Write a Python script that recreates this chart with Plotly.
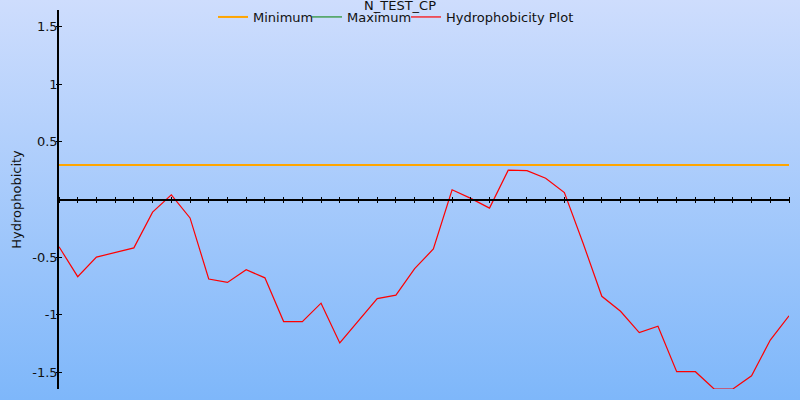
import base64
import plotly.graph_objects as go

# ---- data ----
positions = list(range(40))
hydrophobicity = [-0.41, -0.67, -0.50, -0.46, -0.42, -0.11, 0.04, -0.16, -0.69, -0.72,
                  -0.61, -0.68, -1.06, -1.06, -0.90, -1.245, -1.05, -0.86, -0.83, -0.60,
                  -0.43, 0.084, 0.01, -0.075, 0.255, 0.25, 0.184, 0.06, -0.38, -0.84,
                  -0.97, -1.155, -1.10, -1.495, -1.495, -1.645, -1.645, -1.53, -1.22, -1.01]
minimum_value = 0.30
maximum_x = [None]
maximum_y = [None]
y_tick_values = [1.5, 1, 0.5, -0.5, -1, -1.5]
y_tick_labels = ["1.5", "1", "0.5", "-0.5", "-1", "-1.5"]
title_text = "N_TEST_CP"

FONT = "DejaVu Sans"
W, H = 800, 400
ML, MR, MT, MB = 59, 11, 10, 11
PW, PH = W - ML - MR, H - MT - MB
YR = [-1.645, 1.645]
XR = [positions[0], positions[-1]]

svg = (
    '<svg xmlns="http://www.w3.org/2000/svg" width="800" height="400" preserveAspectRatio="none">'
    '<defs><linearGradient id="g" x1="0" y1="0" x2="0" y2="1">'
    '<stop offset="0" stop-color="#CEDDFD"/><stop offset="1" stop-color="#7EB7FA"/>'
    '</linearGradient></defs><rect width="800" height="400" fill="url(#g)"/></svg>'
)
src = "data:image/svg+xml;base64," + base64.b64encode(svg.encode()).decode()

fig = go.Figure()
fig.add_trace(go.Scatter(x=[positions[0], positions[-1]], y=[minimum_value, minimum_value],
                         mode="lines", name="Minimum", line=dict(color="#FFA500", width=2),
                         legend="legend"))
fig.add_trace(go.Scatter(x=maximum_x, y=maximum_y, mode="lines", name="Maximum",
                         line=dict(color="#008000", width=1), legend="legend2"))
fig.add_trace(go.Scatter(x=positions, y=hydrophobicity, mode="lines", name="Hydrophobicity Plot",
                         line=dict(color="#FF0000", width=1.2), legend="legend3"))
# invisible carrier so the overlaid tick axes are drawn
fig.add_trace(go.Scatter(x=positions, y=hydrophobicity, mode="lines", xaxis="x2", yaxis="y2",
                         line=dict(color="rgba(0,0,0,0)", width=0), showlegend=False,
                         hoverinfo="skip"))

zero_pos = (0 - YR[0]) / (YR[1] - YR[0])


def legend_box(text_start):
    return dict(orientation="h", x=(text_start - 40) / W, xref="container", xanchor="left",
                y=1 - 17 / H, yref="container", yanchor="middle",
                bgcolor="rgba(0,0,0,0)", font=dict(family=FONT, size=13, color="#111111"),
                itemwidth=30)


fig.update_layout(
    width=W, height=H,
    margin=dict(l=ML, r=MR, t=MT, b=MB, autoexpand=False),
    paper_bgcolor="rgba(0,0,0,0)", plot_bgcolor="rgba(0,0,0,0)",
    font=dict(family=FONT, size=13, color="#111111"),
    title=dict(text=title_text, x=0.5, xref="container", xanchor="center",
               y=1 - 5 / H, yref="container", yanchor="middle",
               font=dict(family=FONT, size=13, color="#111111")),
    legend=legend_box(253),
    legend2=legend_box(347),
    legend3=legend_box(446),
    showlegend=True,
    images=[dict(source=src, xref="paper", yref="paper", x=-ML / PW, y=1 + MT / PH,
                 sizex=W / PW, sizey=H / PH, xanchor="left", yanchor="top",
                 sizing="stretch", layer="below")],
    xaxis=dict(range=XR, showgrid=False, zeroline=False, showline=True, linecolor="black",
               linewidth=1.5, anchor="free", position=zero_pos, ticks="outside", ticklen=3,
               tickwidth=1.2, tickcolor="black", tick0=0, dtick=1, showticklabels=False),
    xaxis2=dict(range=XR, overlaying="x", showgrid=False, zeroline=False, showline=False,
                anchor="free", position=zero_pos, side="top", ticks="outside", ticklen=3,
                tickwidth=1.2, tickcolor="black", tick0=0, dtick=1, showticklabels=False),
    yaxis=dict(range=YR, showgrid=False, zeroline=False, showline=True, linecolor="black",
               linewidth=1.5, ticks="inside", ticklen=3, tickwidth=1.2, tickcolor="black",
               tickmode="array", tickvals=y_tick_values, ticktext=y_tick_labels,
               ticklabelstandoff=-3,
               title=dict(text="Hydrophobicity", standoff=8,
                          font=dict(family=FONT, size=13, color="#111111"))),
    yaxis2=dict(range=YR, overlaying="y", side="left", anchor="free", position=0,
                showgrid=False, zeroline=False, showline=False, ticks="outside", ticklen=3,
                tickwidth=1.2, tickcolor="black", tickmode="array", tickvals=y_tick_values,
                showticklabels=False),
)

fig.write_html("out.html", config={"displayModeBar": False},
               post_script="document.body.style.margin='0';")
